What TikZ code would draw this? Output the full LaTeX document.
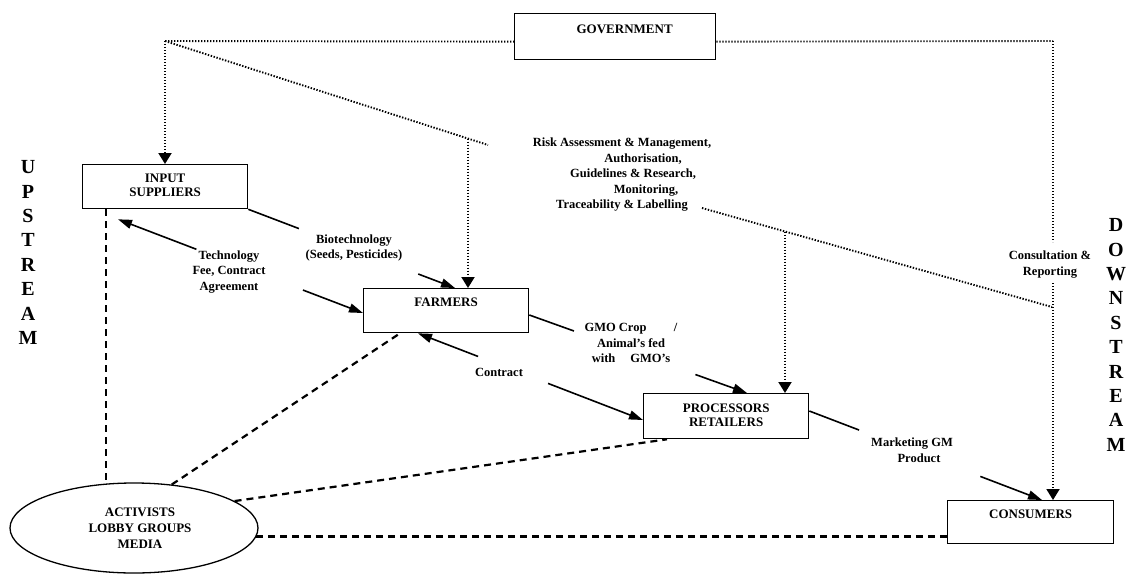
\documentclass[tikz,border=0pt]{standalone}
\usepackage{fontspec}
\setmainfont{Liberation Serif}
\usetikzlibrary{arrows.meta,calc,shapes.geometric}
\begin{document}
\begin{tikzpicture}[x=1pt,y=-1pt,
  box/.style={draw,line width=1.3pt,inner sep=0pt,anchor=north west,align=center,font=\bfseries\fontsize{13}{14}\selectfont},
  lbl/.style={align=center,font=\bfseries\fontsize{12.5}{15.5}\selectfont,inner sep=0pt},
  big/.style={align=center,font=\bfseries\fontsize{20}{24.4}\selectfont,inner sep=0pt},
  gdot/.style={line width=1.9pt,dash pattern=on 1.4pt off 1.6pt},
  ddash/.style={line width=2.2pt,dash pattern=on 7pt off 5pt},
  sline/.style={line width=1.6pt},
  stip/.style={-{Triangle[length=14pt,width=9pt]}},
  dtip/.style={-{Triangle[length=11pt,width=13pt]}}
]
\useasboundingbox (0,0) rectangle (1128,574);

% boxes
\node[box,text width=201pt,text height=19.5pt,text depth=26.5pt] (gov) at (514,13) {\hspace*{19pt}GOVERNMENT};
\node[box,text width=165pt,text height=18pt,text depth=26pt] (inp) at (82,164) {INPUT\hspace*{9pt}\\SUPPLIERS\hspace*{9pt}};
\node[box,text width=165pt,text height=18pt,text depth=26pt] (farm) at (363,288) {FARMERS\hspace*{15pt}};
\node[box,text width=165pt,text height=19pt,text depth=26pt] (proc) at (643,393) {PROCESSORS\hspace*{17pt}\\RETAILERS\hspace*{17pt}};
\node[box,text width=166pt,text height=18pt,text depth=25pt] (cons) at (947,500) {CONSUMERS\hspace*{26pt}};
\node[draw,ellipse,line width=1.3pt,minimum width=248pt,minimum height=90pt,inner sep=0pt,align=center,font=\bfseries\fontsize{13}{16}\selectfont] (act) at (134,528) {\hspace*{12pt}ACTIVISTS\\\hspace*{12pt}LOBBY GROUPS\\\hspace*{12pt}MEDIA};

% side words
\node[big] (up) at (28,252.5) {U\\P\\S\\T\\R\\E\\A\\M};
\node[big] (down) at (1116,335) {D\\O\\W\\N\\S\\T\\R\\E\\A\\M};

% government dotted links
\coordinate (gl) at (165,41);
\coordinate (gr) at (1053,41);
\draw[gdot] (gl) -- ([yshift=-5pt]gov.west);
\draw[gdot] ([yshift=-5pt]gov.east) -- (gr);
\draw[gdot,dtip] (gl) -- (gl |- inp.north);
\coordinate (c1) at (1053,242);
\coordinate (c2) at (1053,283);
\draw[gdot] (gr) -- (c1);
\draw[gdot,dtip] (c2) -- (c2 |- cons.north);
\node[lbl] (consl) at (1050,264.5) {Consultation \&\\Reporting};

\coordinate (d1) at (488,145);
\coordinate (d2) at (702,208);
\coordinate (d3) at (1052,307);
\draw[gdot] (gl) -- (d1);
\draw[gdot] (d2) -- (d3);
\coordinate (v1) at (468,138.6);
\coordinate (v2) at (785,231.6);
\draw[gdot,dtip] (v1) -- (v1 |- farm.north);
\draw[gdot,dtip] (v2) -- (v2 |- proc.north);
\node[lbl] (risk) at (622,175) {Risk Assessment \& Management,\\\hspace*{42pt}Authorisation,\\\hspace*{22pt}Guidelines \& Research,\\\hspace*{48pt}Monitoring,\\Traceability \& Labelling};

% solid flows
\coordinate (bt) at ([xshift=92pt]farm.north west);
\draw[sline] (inp.south east) -- ($(inp.south east)!0.245!(bt)$);
\draw[sline,stip] ($(inp.south east)!0.822!(bt)$) -- (bt);
\node[lbl] (biol) at (354,248) {Biotechnology\\(Seeds, Pesticides)};

\coordinate (ta) at ([xshift=36pt,yshift=-10pt]inp.south west);
\coordinate (tb) at ([yshift=-25pt]farm.north west);
\draw[sline,stip] ($(ta)!0.32!(tb)$) -- (ta);
\draw[sline,stip] ($(ta)!0.755!(tb)$) -- (tb);
\node[lbl] (techl) at (229,272) {Technology\\Fee, Contract\\Agreement};

\coordinate (ga) at ([yshift=-27pt]farm.north east);
\coordinate (gb) at ([xshift=104pt]proc.north west);
\draw[sline] (ga) -- ($(ga)!0.205!(gb)$);
\draw[sline,stip] ($(ga)!0.763!(gb)$) -- (gb);
\node[lbl] (gmol) at (631,343) {GMO Crop\hspace{2.2em}/\\Animal's fed\\with\hspace{1.2em}GMO's};

\coordinate (ca) at ([xshift=55pt]farm.south west);
\coordinate (cb) at ([yshift=-27pt]proc.north west);
\draw[sline,stip] ($(ca)!0.267!(cb)$) -- (ca);
\draw[sline,stip] ($(ca)!0.578!(cb)$) -- (cb);
\node[lbl] (contl) at (499,372) {Contract};

\coordinate (ma) at ([yshift=-18pt]proc.north east);
\coordinate (mb) at ([xshift=95pt]cons.north west);
\draw[sline] (ma) -- ($(ma)!0.214!(mb)$);
\draw[sline,stip] ($(ma)!0.735!(mb)$) -- (mb);
\node[lbl] (mktl) at (912,450) {Marketing GM\\\hspace*{14pt}Product};

% dashed influence lines
\draw[ddash] ([xshift=24pt]inp.south west) -- ([xshift=24pt]inp.south west |- act.122.6);
\draw[ddash] (act.49.7) -- ([xshift=37pt]farm.south west);
\draw[ddash] (act.15.8) -- ([xshift=24pt]proc.south west);
\draw[ddash] (act.356) -- (act.356 -| cons.west);
\end{tikzpicture}
\end{document}
